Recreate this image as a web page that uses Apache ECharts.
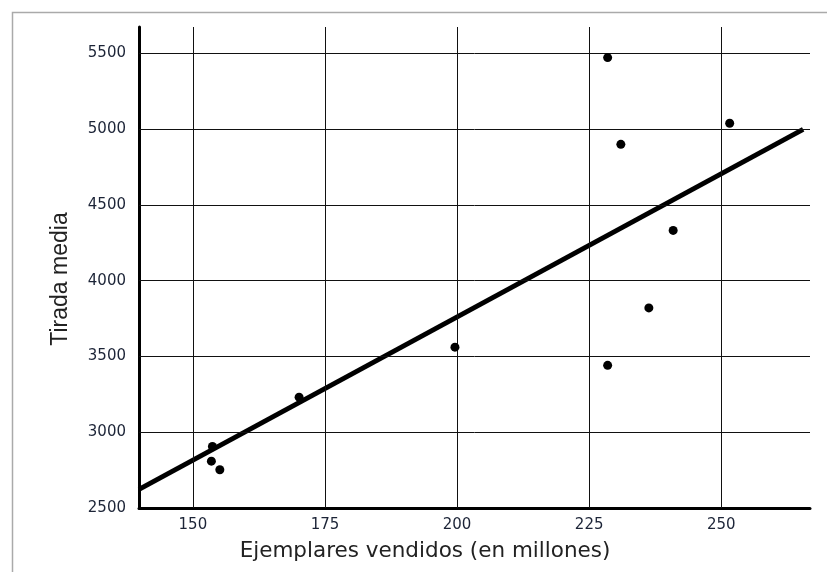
<!DOCTYPE html>
<html>
<head>
<meta charset="utf-8">
<script src="https://cdn.jsdelivr.net/npm/echarts@6/dist/echarts.min.js"></script>
<style>
html,body{margin:0;padding:0;background:#fff;}
#chart{width:827px;height:572px;}
</style>
</head>
<body>
<div id="chart"></div>
<script>
// Data
var salesMillions = [228.5, 251.6, 231.0, 240.9, 236.3, 199.6, 228.5, 170.1, 153.7, 153.5, 155.1];
var avgRun        = [5471, 5038, 4899, 4331, 3820, 3561, 3441, 3231, 2906, 2809, 2752];
var trendX = [139.8, 265.5];
var trendY = [2623, 4998];
var xTicks = [150, 175, 200, 225, 250];
var yTicks = [2500, 3000, 3500, 4000, 4500, 5000, 5500];
var xTitle = 'Ejemplares vendidos (en millones)';
var yTitle = 'Tirada media';

var scatterData = salesMillions.map(function (x, i) { return [x, avgRun[i]]; });
var trendData = trendX.map(function (x, i) { return [x, trendY[i]]; });
var gridLines = xTicks.map(function (v) { return { xAxis: v }; })
  .concat(yTicks.filter(function (v) { return v !== yTicks[0]; }).map(function (v) { return { yAxis: v }; }));

var chart = echarts.init(document.getElementById('chart'), null, { renderer: 'canvas' });
chart.setOption({
  animation: false,
  backgroundColor: '#ffffff',
  grid: { left: 139, right: 17, top: 27, bottom: 64, containLabel: false },
  xAxis: {
    type: 'value', min: 139.8, max: 266.8,
    axisLine: { show: true, onZero: false, lineStyle: { color: '#000', width: 3 } },
    axisTick: { show: false },
    splitLine: { show: false },
    axisLabel: { customValues: xTicks, margin: 10, color: '#1c2437', fontSize: 15, fontFamily: 'DejaVu Sans',
      formatter: function (v) { return String(v); } }
  },
  yAxis: {
    type: 'value', min: 2500, max: 5673,
    axisLine: { show: true, onZero: false, lineStyle: { color: '#000', width: 3 } },
    axisTick: { show: false },
    splitLine: { show: false },
    axisLabel: { customValues: yTicks, margin: 13, color: '#1c2437', fontSize: 15, fontFamily: 'DejaVu Sans',
      formatter: function (v) { return String(v); } }
  },
  graphic: [
    { type: 'rect', silent: true, z: -1, shape: { x: 12.5, y: 12.5, width: 830, height: 580 },
      style: { fill: 'none', stroke: '#aaaaaa', lineWidth: 1.5 } },
    { type: 'text', x: 425, y: 551, style: { text: xTitle, fill: '#222', font: '21.5px "DejaVu Sans"', textAlign: 'center', textVerticalAlign: 'middle' } },
    { type: 'text', x: 61, y: 279, rotation: Math.PI / 2, style: { text: yTitle, fill: '#222', font: '23px "Liberation Sans"', textAlign: 'center', textVerticalAlign: 'middle' } }
  ],
  series: [
    {
      type: 'scatter', data: scatterData, symbolSize: 9, z: 5,
      itemStyle: { color: '#000', opacity: 1 },
      markLine: {
        silent: true, symbol: 'none', animation: false,
        label: { show: false },
        lineStyle: { color: '#111', width: 1, type: 'solid', opacity: 1 },
        data: gridLines
      }
    },
    {
      type: 'line', data: trendData, showSymbol: false, symbol: 'none', z: 4,
      lineStyle: { color: '#000', width: 5, cap: 'butt' }
    }
  ]
});
</script>
</body>
</html>
